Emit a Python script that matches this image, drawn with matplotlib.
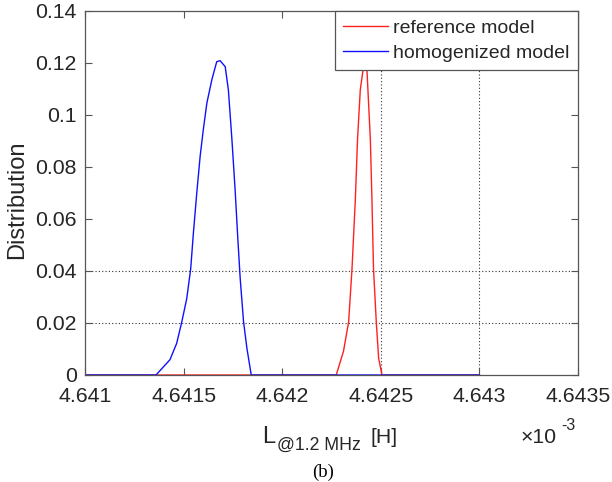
import numpy as np
import matplotlib.pyplot as plt

plt.rcParams['font.family'] = ['Liberation Sans', 'DejaVu Sans']

# inductance at 1.2 MHz, in units of 1e-3 H
L_ref = [4.641, 4.642274, 4.642311, 4.642337, 4.642354, 4.642371, 4.642382,
         4.642396, 4.642410, 4.642419, 4.642430, 4.642447, 4.642455,
         4.642463, 4.642477, 4.642489, 4.642506, 4.643]
p_ref = [0, 0, 0.0092, 0.0205, 0.0409, 0.0677, 0.0906,
         0.1097, 0.1174, 0.1215, 0.117, 0.0906, 0.0677,
         0.0409, 0.0205, 0.0065, 0, 0]

L_hom = [4.641, 4.641360, 4.641431, 4.641465, 4.641491, 4.641516, 4.641536,
         4.641550, 4.641567, 4.641584, 4.641600, 4.641618, 4.641643,
         4.641668, 4.641685, 4.641711, 4.641727, 4.641745, 4.641761,
         4.641775, 4.641787, 4.641804, 4.641821, 4.641843, 4.643]
p_hom = [0, 0, 0.0059, 0.0122, 0.0205, 0.0294, 0.0409,
         0.0549, 0.0702, 0.0842, 0.0944, 0.1046, 0.1135,
         0.1205, 0.1209, 0.1186, 0.1097, 0.0906, 0.0715,
         0.0524, 0.0371, 0.0205, 0.0103, 0, 0]

xticks = [4.641, 4.6415, 4.642, 4.6425, 4.643, 4.6435]
yticks = [0, 0.02, 0.04, 0.06, 0.08, 0.1, 0.12, 0.14]

W, H = 612, 482
txt = '#262626'

fig = plt.figure(figsize=(W/100, H/100), dpi=100)
ax = fig.add_axes([85/W, 1-375/H, (578-85)/W, (375-11)/H])

ax.plot(L_ref, p_ref, color='#ff2020', lw=1.0, label='reference model')
ax.plot(L_hom, p_hom, color='#1010ff', lw=1.0, label='homogenized model')

# the partial dotted grid seen in the figure
for y in [0.02, 0.04]:
    ax.axhline(y, color='#333333', lw=0.8, ls=(0, (1, 2)), zorder=0)
for x in [4.6425, 4.643]:
    ax.axvline(x, color='#333333', lw=0.8, ls=(0, (1, 2)), zorder=0)

ax.set_xlim(4.641, 4.6435)
ax.set_ylim(0, 0.14)
ax.set_xticks(xticks)
ax.set_xticklabels(['%g' % t for t in xticks])
ax.set_yticks(yticks)
ax.set_yticklabels(['%g' % t for t in yticks])
ax.tick_params(direction='in', top=True, right=True, length=5, width=0.8,
               color='#555555', labelsize=15.3, labelcolor=txt)
ax.tick_params(axis='x', pad=9)
ax.tick_params(axis='y', pad=6)
for s in ax.spines.values():
    s.set_color('#555555')
    s.set_linewidth(0.9)

# axis labels placed by hand (subscript is larger than mathtext allows)
fig.text(17/W, 1-200/H, 'Distribution', fontsize=17, color=txt,
         rotation=90, ha='center', va='center')
fig.text(262/W, 1-443/H, 'L', fontsize=17, color=txt, va='baseline')
fig.text(277/W, 1-450/H, '@1.2 MHz', fontsize=12.7, color=txt, va='baseline')
fig.text(371/W, 1-443/H, '[H]', fontsize=15.3, color=txt, va='baseline')
fig.text(521/W, 1-443/H, '\u00d710', fontsize=15.3, color=txt, va='baseline')
fig.text(561/W, 1-430/H, '-3', fontsize=11.5, color=txt, va='baseline')
fig.text(323/W, 1-472/H, '(b)', family='Liberation Serif', fontsize=13.5,
         ha='center', va='center')

leg = ax.legend(loc='upper right', borderaxespad=0, fancybox=False,
                edgecolor='#555555', framealpha=1, fontsize=14,
                handlelength=2.3, handletextpad=0.3, labelspacing=0.38,
                borderpad=0.42)
leg.get_frame().set_linewidth(0.9)
for t in leg.get_texts():
    t.set_color(txt)

fig.savefig('out.png', dpi=100)
